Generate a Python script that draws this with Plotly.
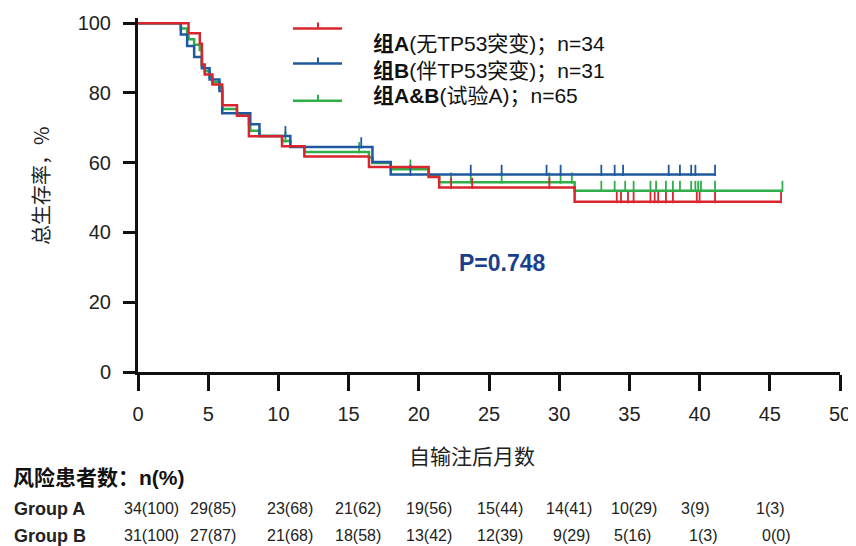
import plotly.graph_objects as go

# ---- data ----
# step curves: event times (months) and survival (%) after each step
a_times = [0, 3.6, 4.4, 4.55, 4.75, 5.3, 6.0, 7.05, 7.9, 10.26, 11.85, 16.45, 20.7, 21.45, 31.1]
a_surv = [100, 97.1, 94.1, 88.2, 85.3, 82.4, 76.5, 73.5, 67.6, 64.7, 61.8, 58.8, 55.9, 52.9, 48.8]
a_end = 45.8
a_cens = [22.3, 23.8, 29.3, 34.1, 34.4, 34.9, 35.3, 36.5, 36.8, 37.05, 37.6, 38.1,
          39.8, 40.0, 41.1, 45.8]

b_times = [0, 3.05, 3.5, 4.0, 4.55, 5.1, 5.8, 6.0, 8.0, 8.65, 10.85, 16.7, 18.0]
b_surv = [100, 96.8, 93.5, 90.3, 87.1, 83.9, 80.6, 74.2, 71.0, 67.7, 64.5, 60.2, 56.6]
b_end = 41.1
b_cens = [10.5, 15.9, 19.4, 23.7, 25.9, 29.1, 30.1, 33.0, 33.95, 34.55, 37.8, 38.6,
          39.4, 39.7, 41.1]

g_times = [0, 3.05, 3.5, 3.6, 4.0, 4.4, 4.55, 4.75, 5.1, 5.3, 5.8, 6.0, 7.05, 7.9, 8.0,
           8.65, 10.26, 10.85, 11.85, 16.45, 16.7, 18.0, 20.7, 21.45, 31.1]
g_surv = [100, 98.5, 96.9, 95.4, 93.8, 92.3, 87.7, 86.2, 84.6, 83.1, 81.5, 75.4, 73.8,
          70.8, 69.2, 67.7, 66.2, 64.6, 63.1, 61.5, 59.9, 58.1, 56.3, 54.4, 52.0]
g_end = 45.9
g_cens = [10.5, 15.75, 19.4, 22.3, 23.7, 25.9, 29.3, 30.1, 30.9, 33.0, 33.95, 34.7, 35.3,
          36.5, 36.9, 37.6, 38.1, 38.6, 39.4, 39.7, 39.9, 40.1, 41.1, 45.9]

legend_labels = ["<b>组A</b>(无TP53突变)；n=34",
                 "<b>组B</b>(伴TP53突变)；n=31",
                 "<b>组A&B</b>(试验A)；n=65"]

risk_a = ["34(100)", "29(85)", "23(68)", "21(62)", "19(56)", "15(44)", "14(41)",
          "10(29)", "3(9)", "1(3)"]
risk_b = ["31(100)", "27(87)", "21(68)", "18(58)", "13(42)", "12(39)", "9(29)",
          "5(16)", "1(3)", "0(0)"]

p_value = "P=0.748"

RED = "#d9262e"
BLUE = "#1f5a9e"
GREEN = "#2fae4a"

# plot area in reference pixels; the page body adds an 8px offset
OFF = 8
L, R, T, B = 138, 840, 17.8, 372


def px_x(p):
    return (p - L) / (R - L)


def px_y(p):
    return (B - p) / (B - T)


def level(times, surv, t):
    s = surv[0]
    for ti, si in zip(times, surv):
        if ti <= t:
            s = si
    return s


def note(xp, yp, text, font, xanchor="center", **kw):
    fig.add_annotation(x=px_x(xp), y=px_y(yp), xref="paper", yref="paper",
                       text=text, showarrow=False, xanchor=xanchor, yanchor="middle",
                       font=font, **kw)


fig = go.Figure()

curves = [(a_times, a_surv, a_end, a_cens, RED),
          (b_times, b_surv, b_end, b_cens, BLUE),
          (g_times, g_surv, g_end, g_cens, GREEN)]

# draw green first, then blue, then red on top
for times, surv, end, cens, col in [curves[2], curves[1], curves[0]]:
    fig.add_trace(go.Scatter(
        x=times + [end], y=surv + [surv[-1]], mode="lines",
        line=dict(color=col, width=2.5, shape="hv"), showlegend=False,
        hoverinfo="skip"))
    fig.add_trace(go.Scatter(
        x=cens, y=[level(times, surv, c) + 1.2 for c in cens], mode="markers",
        marker=dict(symbol="line-ns", size=8, line=dict(color=col, width=1.8)),
        showlegend=False, hoverinfo="skip", cliponaxis=False))

# hand-made legend
leg_y = [28.3, 63.3, 100.7]
txt_y = [44, 71, 96]
for col, ly, ty, lab in zip([RED, BLUE, GREEN], leg_y, txt_y, legend_labels):
    fig.add_shape(type="line", xref="paper", yref="paper",
                  x0=px_x(293), x1=px_x(342), y0=px_y(ly), y1=px_y(ly),
                  line=dict(color=col, width=2.5))
    fig.add_shape(type="line", xref="paper", yref="paper",
                  x0=px_x(318), x1=px_x(318), y0=px_y(ly), y1=px_y(ly - 6),
                  line=dict(color=col, width=2))
    note(371, ty, lab, dict(size=21, color="#111",
                            family="Liberation Sans, Noto Sans CJK SC"), xanchor="left")

note(502, 263, "<b>" + p_value + "</b>",
     dict(size=23, color="#1b3f8c", family="Liberation Sans, Arial"))

# axis titles
note(40, 186, "总生存率，%", dict(size=20, color="#222", family="Noto Sans CJK SC"),
     textangle=-90)
note(472, 455, "自输注后月数", dict(size=21, color="#222", family="Noto Sans CJK SC"))

# number at risk table
tab_font = dict(size=16, color="#222", family="Liberation Sans")
lab_font = dict(size=18, color="#222", family="Liberation Sans")
note(11, 478, "<b>风险患者数：n(%)</b>",
     dict(size=21, color="#111", family="Liberation Sans, Noto Sans CJK SC"), xanchor="left")
a_px = [151, 213, 290, 358, 429, 500, 569, 634, 695, 770]
b_px = [151, 213, 290, 358, 429, 500, 571, 632, 703, 776]
for row, lab, ypx, pos in [(risk_a, "Group A", 509, a_px), (risk_b, "Group B", 536, b_px)]:
    note(12, ypx, "<b>" + lab + "</b>", lab_font, xanchor="left")
    for v, p in zip(row, pos):
        note(p, ypx, v, tab_font)

axis_style = dict(showline=True, linecolor="#111", linewidth=3, ticks="outside",
                  tickwidth=3, tickcolor="#111", showgrid=False, zeroline=False,
                  automargin=False,
                  tickfont=dict(size=20, color="#222", family="Liberation Sans, Arial"))

fig.update_layout(
    width=856 - OFF, height=546 - OFF,
    margin=dict(l=L - OFF, r=856 - R, t=T - OFF, b=546 - B),
    plot_bgcolor="white", paper_bgcolor="white",
    xaxis=dict(range=[0, 50], tickvals=list(range(0, 51, 5)), ticklen=16,
               ticklabelstandoff=6, **axis_style),
    yaxis=dict(range=[0, 101.5], tickvals=list(range(0, 101, 20)), ticklen=12,
               ticklabelstandoff=8, **axis_style),
)

fig.write_html("out.html")
